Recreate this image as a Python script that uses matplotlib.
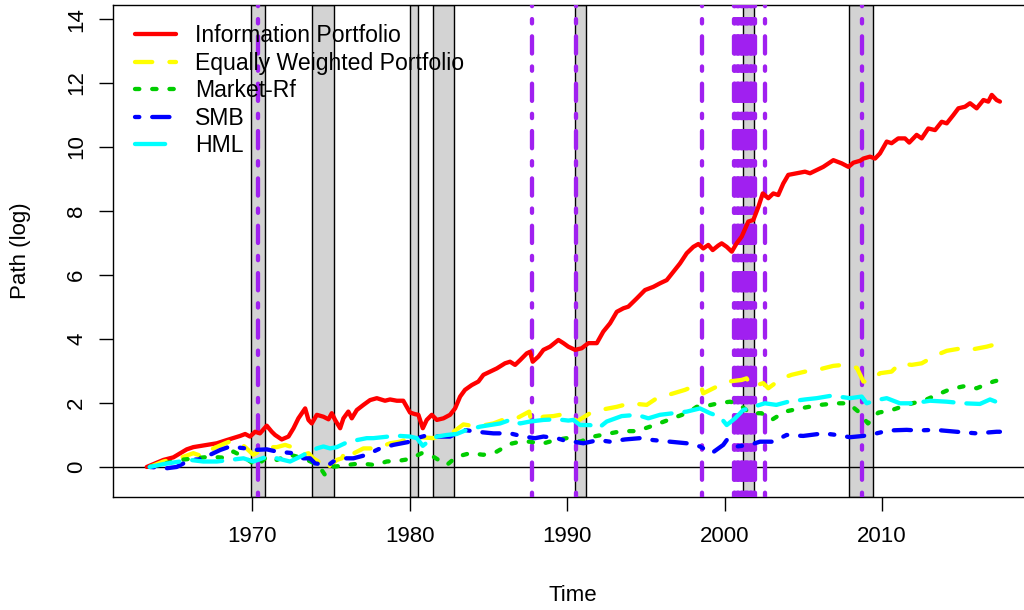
import matplotlib
matplotlib.use("Agg")
import matplotlib.pyplot as plt

plt.rcParams["font.family"] = ["Liberation Sans", "DejaVu Sans"]
plt.rcParams["font.size"] = 16

# series (year, cumulative log path)
info_t = [1963.31, 1964.37, 1965.00, 1965.85, 1966.27, 1967.12, 1967.76, 1968.39, 1969.24, 1969.56,
          1969.87, 1970.19, 1970.50, 1970.93, 1971.25, 1971.46, 1971.88, 1972.31, 1972.63, 1972.94,
          1973.37, 1973.58, 1973.79, 1974.11, 1974.53, 1974.85, 1975.06, 1975.27, 1975.59, 1975.80,
          1976.11, 1976.33, 1976.65, 1977.07, 1977.49, 1977.92, 1978.44, 1978.76, 1979.19, 1979.60,
          1980.03, 1980.35, 1980.56, 1980.84, 1981.09, 1981.41, 1981.73, 1982.15, 1982.57, 1982.89,
          1983.21, 1983.52, 1983.95, 1984.37, 1984.69, 1985.11, 1985.54, 1986.06, 1986.38, 1986.70,
          1987.02, 1987.44, 1987.65, 1987.82, 1988.18, 1988.50, 1988.92, 1989.45, 1989.77, 1990.08,
          1990.51, 1990.93, 1991.35, 1991.89, 1992.30, 1992.73, 1993.16, 1993.58, 1993.89, 1994.43,
          1994.95, 1995.48, 1995.90, 1996.33, 1996.75, 1997.17, 1997.60, 1998.02, 1998.34, 1998.65,
          1998.97, 1999.25, 1999.60, 1999.82, 2000.14, 2000.46, 2000.77, 2001.09, 2001.51, 2001.83,
          2002.15, 2002.43, 2002.78, 2003.10, 2003.41, 2003.73, 2004.05, 2004.58, 2005.11, 2005.43,
          2005.85, 2006.27, 2006.91, 2007.44, 2007.87, 2008.18, 2008.60, 2008.82, 2009.24, 2009.56,
          2009.87, 2010.30, 2010.61, 2011.03, 2011.46, 2011.73, 2012.20, 2012.52, 2012.94, 2013.37,
          2013.79, 2014.11, 2014.53, 2014.85, 2015.27, 2015.59, 2016.01, 2016.44, 2016.75, 2016.97,
          2017.28, 2017.49]
info_v = [0.00, 0.22, 0.30, 0.55, 0.62, 0.69, 0.74, 0.84, 0.97, 1.03,
          0.95, 1.10, 1.05, 1.29, 1.10, 1.00, 0.86, 0.95, 1.21, 1.52,
          1.83, 1.47, 1.36, 1.63, 1.57, 1.49, 1.68, 1.47, 1.21, 1.52,
          1.73, 1.52, 1.78, 1.94, 2.09, 2.15, 2.07, 2.11, 2.07, 2.07,
          1.70, 1.65, 1.63, 1.21, 1.47, 1.63, 1.47, 1.52, 1.63, 1.83,
          2.20, 2.41, 2.56, 2.67, 2.88, 2.98, 3.08, 3.24, 3.29, 3.19,
          3.34, 3.55, 3.60, 3.29, 3.45, 3.66, 3.76, 3.97, 3.87, 3.76,
          3.66, 3.71, 3.87, 3.87, 4.23, 4.49, 4.85, 4.96, 5.01, 5.27,
          5.53, 5.63, 5.74, 5.84, 6.10, 6.36, 6.68, 6.88, 6.97, 6.83,
          6.94, 6.78, 6.92, 6.99, 6.88, 6.73, 6.99, 7.20, 7.67, 7.72,
          8.13, 8.55, 8.40, 8.55, 8.50, 8.86, 9.13, 9.18, 9.23, 9.18,
          9.28, 9.38, 9.59, 9.49, 9.38, 9.51, 9.57, 9.64, 9.70, 9.64,
          9.80, 10.17, 10.12, 10.27, 10.27, 10.14, 10.38, 10.27, 10.58, 10.53,
          10.79, 10.74, 11.00, 11.21, 11.26, 11.37, 11.21, 11.47, 11.42, 11.63,
          11.47, 11.42]

ew_t = [1963.50, 1964.37, 1965.64, 1966.27, 1966.90, 1967.54, 1968.29, 1968.81, 1969.24, 1969.56,
        1970.08, 1970.40, 1971.03, 1971.57, 1972.10, 1972.41, 1973.26, 1973.58, 1973.89, 1974.21,
        1974.53, 1974.63, 1974.85, 1975.38, 1975.70, 1975.90, 1976.11, 1977.07, 1977.92, 1978.76,
        1979.40, 1980.03, 1980.67, 1981.51, 1982.36, 1982.79, 1983.42, 1984.27, 1985.32, 1986.17,
        1986.80, 1987.60, 1987.72, 1988.50, 1989.13, 1989.56, 1990.19, 1990.62, 1991.46, 1992.10,
        1993.16, 1994.00, 1995.06, 1995.70, 1996.75, 1997.49, 1998.23, 1998.55, 1998.65, 1999.50,
        2000.24, 2001.09, 2001.40, 2001.72, 2002.46, 2002.78, 2003.63, 2004.26, 2005.11, 2005.85,
        2006.91, 2007.54, 2008.40, 2008.82, 2009.24, 2009.87, 2010.61, 2011.14, 2011.88, 2012.52,
        2013.47, 2014.11, 2015.06, 2015.59, 2016.65, 2017.49]
ew_v = [0.00, 0.17, 0.32, 0.43, 0.32, 0.58, 0.74, 0.84, 0.74, 0.62,
        0.38, 0.48, 0.62, 0.62, 0.69, 0.64, 0.38, 0.43, 0.27, 0.17,
        0.00, -0.10, 0.00, 0.22, 0.27, 0.48, 0.34, 0.58, 0.58, 0.74,
        0.79, 0.90, 0.93, 0.90, 1.05, 1.10, 1.33, 1.26, 1.36, 1.52,
        1.52, 1.73, 1.42, 1.57, 1.59, 1.63, 1.63, 1.42, 1.68, 1.78,
        1.88, 1.99, 1.94, 2.15, 2.30, 2.41, 2.56, 2.46, 2.30, 2.51,
        2.67, 2.72, 2.77, 2.51, 2.62, 2.46, 2.77, 2.88, 2.98, 3.03,
        3.16, 3.19, 3.10, 2.67, 2.67, 2.93, 2.98, 3.24, 3.19, 3.24,
        3.50, 3.63, 3.71, 3.66, 3.76, 3.87]

mkt_t = [1963.50, 1965.43, 1967.33, 1968.18, 1968.81, 1969.45, 1970.30, 1970.93, 1971.57, 1972.41,
         1973.26, 1974.21, 1974.63, 1975.06, 1976.01, 1976.86, 1977.81, 1978.55, 1979.40, 1980.03,
         1980.77, 1981.51, 1982.36, 1982.99, 1983.84, 1984.69, 1985.54, 1986.38, 1987.02, 1987.65,
         1988.39, 1989.24, 1989.98, 1990.83, 1991.67, 1992.52, 1993.47, 1994.43, 1995.27, 1996.33,
         1996.97, 1997.70, 1998.23, 1998.87, 1999.60, 2000.35, 2000.98, 2001.61, 2002.35, 2002.99,
         2003.84, 2004.79, 2006.06, 2007.12, 2007.87, 2008.45, 2009.11, 2009.77, 2010.51, 2011.78,
         2012.73, 2013.47, 2014.32, 2015.27, 2016.01, 2017.07, 2017.49]
mkt_v = [0.00, 0.22, 0.32, 0.29, 0.48, 0.32, 0.03, 0.32, 0.22, 0.38,
         0.27, 0.06, -0.25, 0.00, 0.06, 0.11, 0.06, 0.17, 0.20, 0.25,
         0.43, 0.32, 0.06, 0.32, 0.43, 0.38, 0.48, 0.72, 0.79, 0.79,
         0.72, 0.84, 0.90, 0.79, 0.95, 1.03, 1.12, 1.12, 1.26, 1.45,
         1.57, 1.70, 1.88, 1.91, 1.99, 2.04, 1.94, 1.68, 1.68, 1.47,
         1.73, 1.83, 1.94, 1.99, 1.99, 1.75, 1.36, 1.70, 1.76, 1.97,
         2.09, 2.25, 2.43, 2.53, 2.46, 2.67, 2.72]

smb_t = [1963.50, 1964.58, 1965.21, 1966.06, 1966.70, 1967.33, 1967.97, 1968.60, 1969.56, 1970.08,
         1970.93, 1971.57, 1972.63, 1973.26, 1973.68, 1974.00, 1974.85, 1975.16, 1975.80, 1976.43,
         1977.28, 1978.13, 1978.97, 1980.03, 1980.67, 1981.19, 1981.73, 1982.57, 1983.42, 1984.27,
         1985.32, 1986.38, 1987.23, 1987.97, 1988.50, 1989.35, 1990.08, 1990.40, 1991.04, 1991.99,
         1992.73, 1993.68, 1994.63, 1995.48, 1996.54, 1997.60, 1998.44, 1999.19, 1999.92, 2000.14,
         2000.77, 2001.61, 2002.25, 2003.10, 2003.94, 2005.00, 2006.27, 2007.12, 2007.97, 2008.82,
         2009.66, 2010.40, 2011.57, 2012.20, 2013.37, 2014.74, 2016.01, 2017.28, 2017.49]
smb_v = [0.00, -0.04, 0.00, 0.22, 0.24, 0.38, 0.53, 0.64, 0.58, 0.53,
         0.55, 0.48, 0.43, 0.27, 0.27, 0.11, 0.06, 0.17, 0.27, 0.27,
         0.38, 0.58, 0.69, 0.79, 0.93, 1.00, 0.95, 0.95, 1.16, 1.10,
         1.05, 1.05, 0.95, 0.90, 0.95, 0.90, 0.79, 0.79, 0.74, 0.84,
         0.79, 0.86, 0.90, 0.84, 0.79, 0.74, 0.64, 0.43, 0.69, 0.84,
         0.64, 0.69, 0.79, 0.79, 1.00, 0.97, 1.05, 1.00, 0.93, 0.97,
         1.05, 1.14, 1.16, 1.14, 1.16, 1.10, 1.05, 1.10, 1.10]

hml_t = [1963.50, 1964.37, 1966.06, 1966.90, 1967.76, 1968.60, 1969.45, 1970.08, 1970.93, 1971.57,
         1972.41, 1973.05, 1973.47, 1974.11, 1974.53, 1974.95, 1975.38, 1976.11, 1976.65, 1977.28,
         1977.70, 1978.65, 1979.40, 1980.03, 1980.46, 1980.84, 1981.30, 1981.73, 1982.36, 1982.99,
         1983.63, 1984.48, 1985.11, 1985.75, 1986.38, 1987.02, 1987.65, 1988.50, 1989.35, 1990.08,
         1990.40, 1990.83, 1991.46, 1991.99, 1992.52, 1993.47, 1994.43, 1995.16, 1995.90, 1996.75,
         1997.60, 1998.44, 1999.08, 1999.71, 2000.14, 2000.67, 2001.19, 2001.83, 2002.56, 2003.29,
         2004.05, 2005.11, 2005.85, 2006.70, 2007.54, 2007.97, 2008.71, 2009.03, 2009.66, 2010.30,
         2011.14, 2011.99, 2013.05, 2014.11, 2015.17, 2016.22, 2016.86, 2017.49]
hml_v = [0.00, 0.09, 0.22, 0.17, 0.17, 0.22, 0.27, 0.17, 0.32, 0.27,
         0.17, 0.32, 0.43, 0.58, 0.64, 0.58, 0.62, 0.79, 0.84, 0.90,
         0.90, 0.95, 0.97, 0.95, 0.90, 0.66, 0.84, 0.95, 1.00, 1.03,
         1.16, 1.26, 1.31, 1.36, 1.47, 1.36, 1.42, 1.47, 1.49, 1.45,
         1.47, 1.31, 1.31, 1.21, 1.42, 1.59, 1.63, 1.52, 1.63, 1.68,
         1.73, 1.83, 1.68, 1.57, 1.31, 1.52, 1.78, 1.88, 1.99, 1.94,
         2.04, 2.11, 2.15, 2.22, 2.18, 2.15, 2.20, 1.99, 2.09, 2.15,
         1.99, 1.99, 2.07, 2.04, 1.99, 1.97, 2.11, 1.99]

# NBER recessions (start, end)
recessions = [(1969.92, 1970.83), (1973.83, 1975.17), (1980.00, 1980.55), (1981.50, 1982.85),
              (1990.50, 1991.20), (2001.17, 2001.87), (2007.92, 2009.45)]
# event dates (vertical dot-dash lines)
events = [1970.40, 1987.76, 1990.57, 1998.58, 2002.56, 2008.70,
          2000.60, 2000.68, 2000.77, 2000.85, 2000.93, 2001.02, 2001.10, 2001.18, 2001.27,
          2001.35, 2001.43, 2001.52, 2001.60, 2001.68, 2001.77, 2001.85, 2001.93]

series = [
    ("Information Portfolio", info_t, info_v, "#FF0000", "-"),
    ("Equally Weighted Portfolio", ew_t, ew_v, "#FFFF00", (0, (4, 4))),
    ("Market-Rf", mkt_t, mkt_v, "#00CD00", (0, (1, 3))),
    ("SMB", smb_t, smb_v, "#0000FF", (0, (1, 3, 4, 3))),
    ("HML", hml_t, hml_v, "#00FFFF", (0, (7, 3))),
]

fig = plt.figure(figsize=(10.24, 6.1), dpi=100)
ax = fig.add_axes([0.1104, 0.1852, 0.8984, 0.8066])
ax.set_xlim(1961.17, 2019.59)
ax.set_ylim(-0.94, 14.44)

for a, b in recessions:
    ax.axvspan(a, b, facecolor="#D3D3D3", edgecolor="black", lw=1.0, zorder=1)
ax.axhline(0, color="black", lw=1.0, zorder=2)
for t in events:
    ax.axvline(t, color="#A020F0", lw=3.1, ls=(0, (1, 3, 4, 3)),
               dash_capstyle="round", zorder=3)

for name, t, v, col, ls in series:
    ax.plot(t, v, color=col, lw=3.1, ls=ls, label=name, zorder=4,
            dash_capstyle="round", solid_capstyle="round", solid_joinstyle="round")

ax.legend(loc="upper left", bbox_to_anchor=(135 / 1024, 1 - 24 / 610),
          bbox_transform=fig.transFigure, frameon=False, borderpad=0,
          borderaxespad=0, handlelength=1.78, handletextpad=0.82,
          labelspacing=0.2, fontsize=16.6)

ax.set_xticks([1970, 1980, 1990, 2000, 2010])
ax.set_yticks(range(0, 15, 2))
ax.tick_params(axis="both", length=10, width=1, direction="out", labelsize=16)
ax.tick_params(axis="x", pad=11)
ax.tick_params(axis="y", pad=8.6)
for lbl in ax.get_yticklabels():
    lbl.set_rotation(90)
    lbl.set_va("center")
for s in ax.spines.values():
    s.set_linewidth(1.0)

ax.set_xlabel("Time", fontsize=16)
ax.set_ylabel("Path (log)", fontsize=16)
ax.xaxis.set_label_coords(0.5, -0.201)
ax.xaxis.label.set_va("center")
ax.yaxis.set_label_coords(-0.101, 0.5)
ax.yaxis.label.set_va("center")

fig.savefig("out.png", dpi=100)
